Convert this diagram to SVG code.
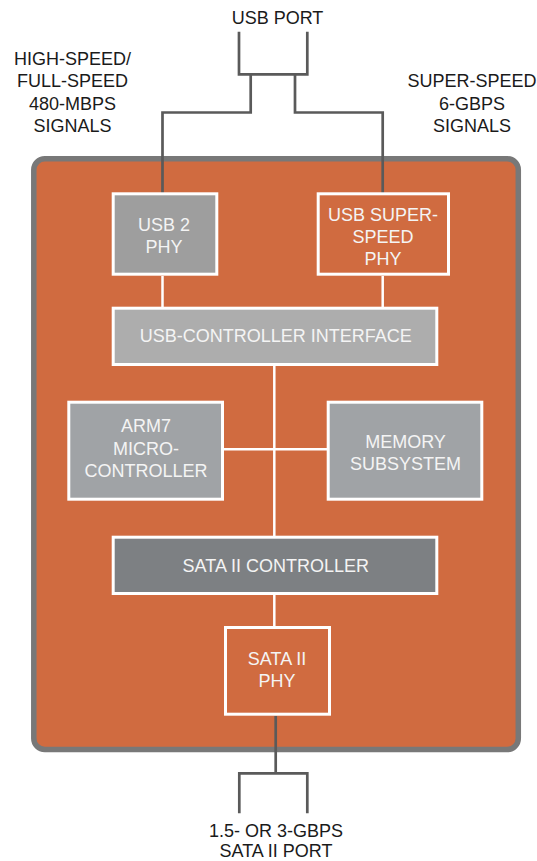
<svg xmlns="http://www.w3.org/2000/svg" width="537" height="861" viewBox="0 0 537 861">
<style>
text{font-family:"Liberation Sans",Arial,sans-serif;font-size:18px;text-anchor:middle}
.lbl{fill:#1a1a1a}
.in{fill:#f4f4f4}
.box{stroke:#ffffff;stroke-width:3}
.dark{fill:none;stroke:#5a5a5a;stroke-width:2.7}
.wht{fill:none;stroke:#ffffff;stroke-width:2.5}
</style>
<rect width="537" height="861" fill="#ffffff"/>
<g id="chip">
<rect x="33.8" y="158.8" width="484.5" height="590.7" rx="11" fill="#d06b40" stroke="#787878" stroke-width="5.5"/>
</g>
<g id="labels">
<text class="lbl" x="277.5" y="24.3">USB PORT</text>
<text class="lbl" x="72.5" y="64.5">HIGH-SPEED/</text>
<text class="lbl" x="72.5" y="87">FULL-SPEED</text>
<text class="lbl" x="72.5" y="109.5">480-MBPS</text>
<text class="lbl" x="72.5" y="131.5">SIGNALS</text>
<text class="lbl" x="472" y="87">SUPER-SPEED</text>
<text class="lbl" x="472" y="109.5">6-GBPS</text>
<text class="lbl" x="472" y="131.5">SIGNALS</text>
<text class="lbl" x="276" y="837">1.5- OR 3-GBPS</text>
<text class="lbl" x="276" y="857">SATA II PORT</text>
</g>
<g id="connectors">
<path class="dark" d="M239,31.7 V74.3 H307.3 V31.7"/>
<path class="dark" d="M250.7,74.3 V112.5 H162.5 V193"/>
<path class="dark" d="M295,74.3 V112.5 H382.7 V193"/>
<path class="wht" d="M162.5,276 V307"/>
<path class="wht" d="M382.7,276 V307"/>
<path class="wht" d="M274.3,366 V536"/>
<path class="wht" d="M224,449.3 H327"/>
<path class="wht" d="M274.3,595 V626"/>
<path class="dark" d="M275.7,716 V773.3"/>
<path class="dark" d="M239.3,813.3 V773.3 H307.3 V813.3"/>
</g>
<g id="usb2phy">
<rect class="box" x="113.2" y="193.8" width="103.6" height="80.4" fill="#9e9e9e"/>
<text class="in" x="164" y="230.7">USB 2</text>
<text class="in" x="164" y="252.7">PHY</text>
</g>
<g id="usbssphy">
<rect class="box" x="318.2" y="193.8" width="130.3" height="80.4" fill="#d06b40"/>
<text class="in" x="383" y="220.7">USB SUPER-</text>
<text class="in" x="383" y="242.5">SPEED</text>
<text class="in" x="383" y="264.5">PHY</text>
</g>
<g id="usbctrl">
<rect class="box" x="113.2" y="308.2" width="323.6" height="56.3" fill="#adadad"/>
<text class="in" x="275.8" y="342.3">USB-CONTROLLER INTERFACE</text>
</g>
<g id="arm7">
<rect class="box" x="68.8" y="402.2" width="153.7" height="97" fill="#a0a3a6"/>
<text class="in" x="146" y="432.3">ARM7</text>
<text class="in" x="146" y="454.5">MICRO-</text>
<text class="in" x="146" y="477">CONTROLLER</text>
</g>
<g id="memory">
<rect class="box" x="328.2" y="402.2" width="153.6" height="97" fill="#a0a3a6"/>
<text class="in" x="405.5" y="448.3">MEMORY</text>
<text class="in" x="405.5" y="470">SUBSYSTEM</text>
</g>
<g id="satactrl">
<rect class="box" x="113.2" y="537.2" width="323.6" height="56.3" fill="#7d8083"/>
<text class="in" x="275.8" y="571.5">SATA II CONTROLLER</text>
</g>
<g id="sataphy">
<rect class="box" x="225.5" y="627.5" width="104" height="86.7" fill="#d06b40"/>
<text class="in" x="277" y="665">SATA II</text>
<text class="in" x="277" y="687.3">PHY</text>
</g>
</svg>
